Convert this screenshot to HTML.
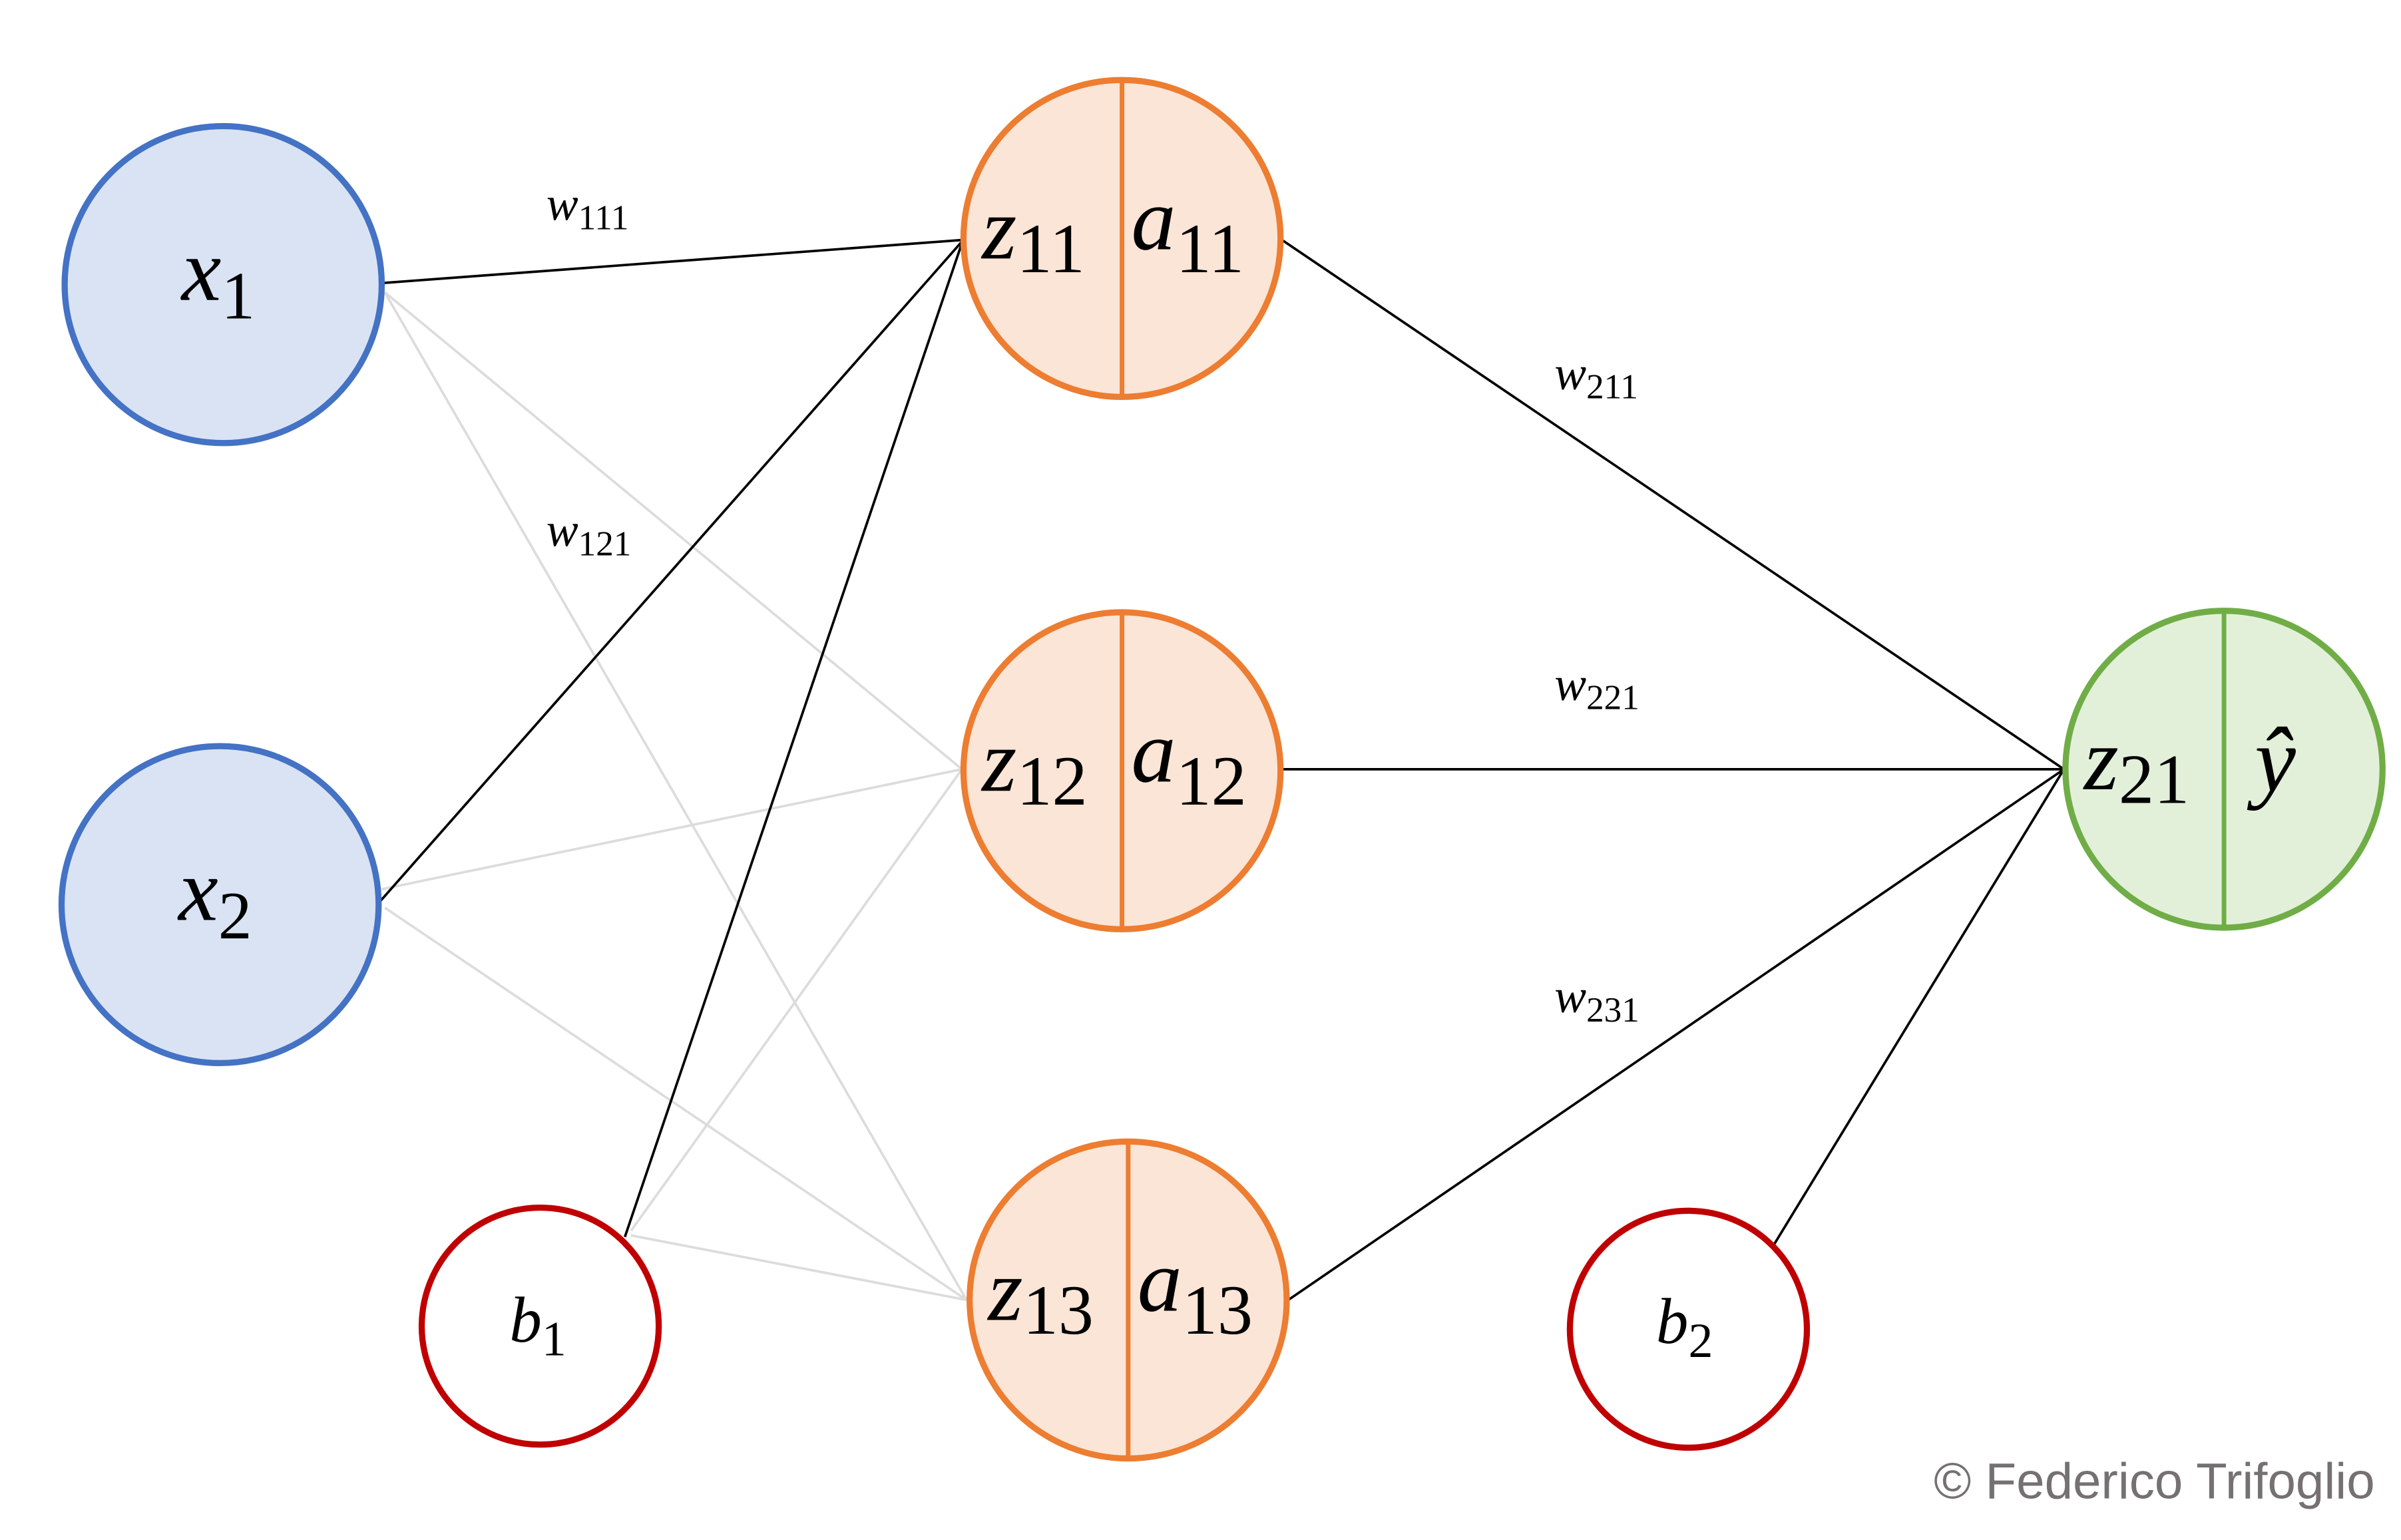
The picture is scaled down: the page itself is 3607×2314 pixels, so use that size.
<!DOCTYPE html>
<html><head><meta charset="utf-8"><style>
html,body{margin:0;padding:0;background:#fff;}
svg{display:block;}
.v{font-family:"Liberation Serif",serif;font-style:italic;fill:#000;}
.s{font-family:"Liberation Serif",serif;font-style:normal;}
</style></head><body>
<svg width="3607" height="2314" viewBox="0 0 1560 1001" preserveAspectRatio="none" xmlns="http://www.w3.org/2000/svg">
<rect width="1560" height="1001" fill="#fff"/>
<g stroke="#dcdcdc" stroke-width="1.6" fill="none">
<line x1="250" y1="190" x2="625" y2="500"/>
<line x1="250" y1="190" x2="628" y2="845"/>
<line x1="248" y1="578" x2="625" y2="500"/>
<line x1="250" y1="590" x2="628" y2="845"/>
<line x1="410" y1="800" x2="625" y2="500"/>
<line x1="410" y1="803" x2="628" y2="845"/>
</g>
<g stroke="#000" stroke-width="1.6" fill="none">
<line x1="248" y1="184" x2="625" y2="156"/>
<line x1="246" y1="587" x2="625" y2="157"/>
<line x1="406" y1="804" x2="625" y2="158"/>
<line x1="833" y1="156" x2="1341" y2="500"/>
<line x1="833" y1="500" x2="1341" y2="500"/>
<line x1="837" y1="845" x2="1341" y2="500"/>
<line x1="1152" y1="810" x2="1341" y2="500"/>
</g>
<g stroke-width="4">
<circle cx="145" cy="185" r="103" fill="#DAE3F3" stroke="#4472C4"/>
<circle cx="143" cy="588" r="103" fill="#DAE3F3" stroke="#4472C4"/>
<circle cx="351" cy="862" r="77" fill="#fff" stroke="#C00000"/>
<circle cx="1097" cy="864" r="77" fill="#fff" stroke="#C00000"/>
<circle cx="729" cy="155" r="103" fill="#FBE5D6" stroke="#ED7D31"/>
<circle cx="729" cy="501" r="103" fill="#FBE5D6" stroke="#ED7D31"/>
<circle cx="733" cy="845" r="103" fill="#FBE5D6" stroke="#ED7D31"/>
<circle cx="1445" cy="500" r="103" fill="#E2F0D9" stroke="#70AD47"/>
</g>
<g stroke-width="3">
<line x1="729" y1="52" x2="729" y2="258" stroke="#ED7D31"/>
<line x1="729" y1="398" x2="729" y2="604" stroke="#ED7D31"/>
<line x1="733" y1="742" x2="733" y2="948" stroke="#ED7D31"/>
<line x1="1445" y1="397" x2="1445" y2="603" stroke="#70AD47"/>
</g>
<g class="v">
<text x="118" y="195" font-size="58">x<tspan class="s" font-size="44" dy="12">1</tspan></text>
<text x="116" y="598" font-size="58">x<tspan class="s" font-size="44" dy="12">2</tspan></text>
<text x="331" y="872" font-size="42">b<tspan class="s" font-size="32" dy="9">1</tspan></text>
<text x="1076" y="873" font-size="42">b<tspan class="s" font-size="32" dy="9">2</tspan></text>
<text x="638" y="168" font-size="58">z<tspan class="s" font-size="46" dy="9">11</tspan></text>
<text x="735" y="162" font-size="58">a<tspan class="s" font-size="46" dy="15">11</tspan></text>
<text x="638" y="514" font-size="58">z<tspan class="s" font-size="46" dy="9">12</tspan></text>
<text x="735" y="508" font-size="58">a<tspan class="s" font-size="46" dy="15">12</tspan></text>
<text x="642" y="858" font-size="58">z<tspan class="s" font-size="46" dy="9">13</tspan></text>
<text x="739" y="852" font-size="58">a<tspan class="s" font-size="46" dy="15">13</tspan></text>
<text x="1354" y="513" font-size="58">z<tspan class="s" font-size="46" dy="9">21</tspan></text>
<text x="1465" y="514" font-size="60">ŷ</text>
<text x="355" y="143" font-size="31">w<tspan class="s" font-size="23" dy="6">111</tspan></text>
<text x="355" y="355" font-size="31">w<tspan class="s" font-size="23" dy="6">121</tspan></text>
<text x="1010" y="253" font-size="31">w<tspan class="s" font-size="23" dy="6">211</tspan></text>
<text x="1010" y="455" font-size="31">w<tspan class="s" font-size="23" dy="6">221</tspan></text>
<text x="1010" y="658" font-size="31">w<tspan class="s" font-size="23" dy="6">231</tspan></text>
</g>
<text x="1543" y="974" text-anchor="end" font-family="Liberation Sans, sans-serif" font-size="33" fill="#767171">© Federico Trifoglio</text>
</svg>
</body></html>
